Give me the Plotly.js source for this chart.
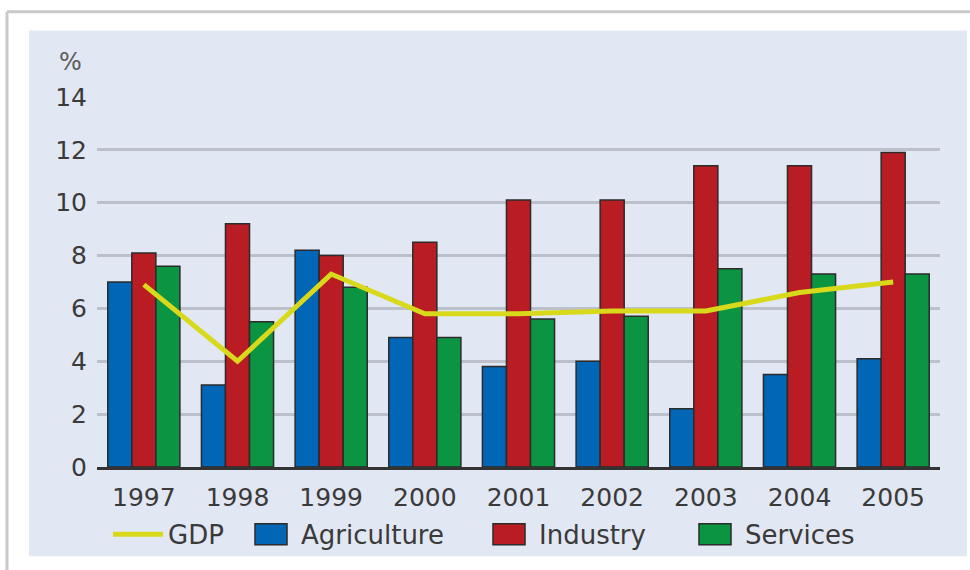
<!DOCTYPE html>
<html>
<head>
<meta charset="utf-8">
<script src="https://cdn.plot.ly/plotly-3.0.1.min.js"></script>
<style>
html,body{margin:0;padding:0;background:#fff;}
#chart{width:970px;height:570px;}
</style>
</head>
<body>
<div id="chart"></div>
<script>
const years = ['1997','1998','1999','2000','2001','2002','2003','2004','2005'];
const agriculture = [7.0, 3.1, 8.2, 4.9, 3.8, 4.0, 2.2, 3.5, 4.1];
const industry    = [8.1, 9.2, 8.0, 8.5, 10.1, 10.1, 11.4, 11.4, 11.9];
const services    = [7.6, 5.5, 6.8, 4.9, 5.6, 5.7, 7.5, 7.3, 7.3];
const gdp         = [6.9, 4.0, 7.3, 5.8, 5.8, 5.9, 5.9, 6.6, 7.0];
const yTicks = [0, 2, 4, 6, 8, 10, 12, 14];

const FONT = '"DejaVu Sans", "Open Sans", sans-serif';
const TXT = '#3a3a3a';
const outline = {color: '#2b2b2b', width: 1.5};

const traces = [
  {type: 'bar', name: 'Agriculture', x: years, y: agriculture, legend: 'legend2',
   marker: {color: '#0066b5', line: outline}, hoverinfo: 'y'},
  {type: 'bar', name: 'Industry', x: years, y: industry, legend: 'legend3',
   marker: {color: '#b91c23', line: outline}, hoverinfo: 'y'},
  {type: 'bar', name: 'Services', x: years, y: services, legend: 'legend4',
   marker: {color: '#0b9441', line: outline}, hoverinfo: 'y'},
  {type: 'scatter', mode: 'lines', name: 'GDP', x: years, y: gdp, legend: 'legend',
   line: {color: '#d9d91c', width: 5}, hoverinfo: 'y'}
];

const L = 97, R = 30, T = 97, B = 100;
const PW = 970 - L - R, PH = 570 - T - B;
const px = v => (v - L) / PW;
const py = v => (570 - B - v) / PH;

function legendAt(xPix) {
  return {
    orientation: 'h',
    x: px(xPix), xanchor: 'left',
    y: py(538), yanchor: 'middle',
    bgcolor: 'rgba(0,0,0,0)',
    font: {family: FONT, size: 26, color: TXT},
    itemwidth: 50
  };
}

const layout = {
  width: 970, height: 570,
  margin: {l: L, r: R, t: T, b: B, pad: 0},
  paper_bgcolor: '#ffffff',
  plot_bgcolor: 'rgba(0,0,0,0)',
  font: {family: FONT, color: TXT, size: 26},
  barmode: 'group',
  bargap: 0.23,
  bargroupgap: 0,
  xaxis: {
    type: 'category',
    showgrid: false,
    showline: true, linecolor: '#333333', linewidth: 3,
    ticks: '', ticklabelstandoff: 6,
    tickfont: {family: FONT, size: 25, color: TXT},
    zeroline: false, fixedrange: true
  },
  yaxis: {
    range: [0, 14],
    tickvals: yTicks,
    ticktext: yTicks.map(String),
    showgrid: true, gridcolor: '#bcc0cb', gridwidth: 3,
    zeroline: false, showline: false,
    ticks: '', ticklabelstandoff: 9,
    tickfont: {family: FONT, size: 25, color: TXT},
    fixedrange: true
  },
  showlegend: true,
  legend: legendAt(108),
  legend2: legendAt(241),
  legend3: legendAt(479),
  legend4: legendAt(685),
  shapes: [
    {type: 'rect', xref: 'paper', yref: 'paper', layer: 'below',
     x0: px(29), x1: px(967), y0: py(560), y1: py(30),
     fillcolor: '#e1e7f3', line: {width: 0}},
    {type: 'line', xref: 'paper', yref: 'paper', layer: 'below',
     x0: px(7), x1: px(990), y0: py(11), y1: py(11),
     line: {color: '#c9c9c9', width: 3}},
    {type: 'line', xref: 'paper', yref: 'paper', layer: 'below',
     x0: px(7), x1: px(7), y0: py(11), y1: py(600),
     line: {color: '#c9c9c9', width: 3}}
  ],
  annotations: [
    {text: '%', xref: 'paper', yref: 'paper', x: px(70), y: py(62),
     xanchor: 'center', yanchor: 'middle', showarrow: false,
     font: {family: FONT, size: 24, color: '#5a5a5a'}}
  ]
};

function bigLegendBoxes(root) {
  root.querySelectorAll('.legendpoints path').forEach(p => {
    const d = p.getAttribute('d') || '';
    if (/^M6,6H-6V-6H6Z/.test(d) || p.classList.contains('legendbar')) {
      p.setAttribute('d', 'M16,10.5H-16V-10.5H16Z');
    }
  });
}

const gdEl = document.getElementById('chart');
const obs = new MutationObserver(() => bigLegendBoxes(gdEl));
obs.observe(gdEl, {subtree: true, childList: true, attributes: true, attributeFilter: ['d']});
Plotly.newPlot(gdEl, traces, layout, {displayModeBar: false, staticPlot: true}).then(gd => {
  bigLegendBoxes(gd);
});
</script>
</body>
</html>
